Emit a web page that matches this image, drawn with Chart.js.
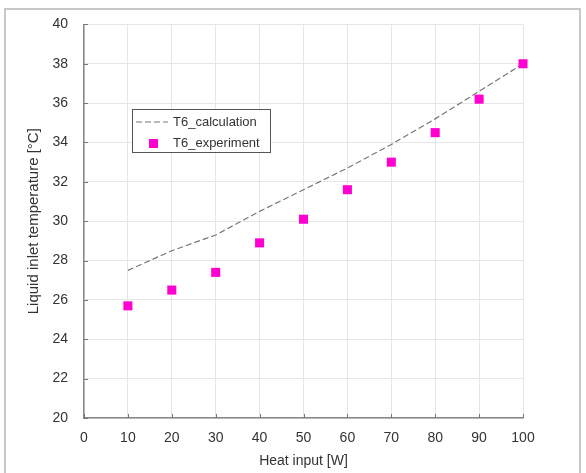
<!DOCTYPE html>
<html>
<head>
<meta charset="utf-8">
<script src="https://cdn.jsdelivr.net/npm/chart.js@4.4.0/dist/chart.umd.min.js"></script>
<style>
  html, body { margin: 0; padding: 0; background: #fff; }
  #wrap { width: 586px; height: 473px; }
</style>
</head>
<body>
<div id="wrap"><canvas id="tempChart" width="586" height="473"></canvas></div>
<script>
// datos
const heatInput = [10, 20, 30, 40, 50, 60, 70, 80, 90, 100];
const t6Calculation = [27.5, 28.5, 29.3, 30.5, 31.6, 32.7, 33.9, 35.2, 36.6, 38.0];
const t6Experiment = [25.7, 26.5, 27.4, 28.9, 30.1, 31.6, 33.0, 34.5, 36.2, 38.0];
const seriesNames = ['T6_calculation', 'T6_experiment'];

const FONT = '"Liberation Sans", Arial, sans-serif';
const MAGENTA = '#ff00d0';

// marco exterior, marcas interiores y leyenda
const extrasPlugin = {
    id: 'extras',
    beforeDraw(chart) {
        const ctx = chart.ctx;
        ctx.save();
        ctx.strokeStyle = '#c8c8c8';
        ctx.lineWidth = 2;
        ctx.strokeRect(5, 9, 575, 470);
        ctx.restore();
    },
    afterDraw(chart) {
        const ctx = chart.ctx;
        const x = chart.scales.x, y = chart.scales.y;
        const area = chart.chartArea;
        ctx.save();
        ctx.strokeStyle = '#777';
        ctx.lineWidth = 1;
        ctx.beginPath();
        y.ticks.forEach(t => {
            const py = Math.round(y.getPixelForValue(t.value)) + 0.5;
            ctx.moveTo(area.left, py);
            ctx.lineTo(area.left + 4, py);
        });
        x.ticks.forEach(t => {
            const px = Math.round(x.getPixelForValue(t.value)) + 0.5;
            ctx.moveTo(px, area.bottom);
            ctx.lineTo(px, area.bottom - 4);
        });
        ctx.stroke();

        // leyenda
        ctx.fillStyle = '#fff';
        ctx.fillRect(132, 109, 138, 43);
        ctx.strokeStyle = '#555';
        ctx.strokeRect(132.5, 109.5, 138, 43);
        ctx.strokeStyle = '#777';
        ctx.setLineDash([6, 3]);
        ctx.beginPath();
        ctx.moveTo(136, 122);
        ctx.lineTo(168, 122);
        ctx.stroke();
        ctx.setLineDash([]);
        ctx.fillStyle = MAGENTA;
        ctx.fillRect(149, 139, 9, 9);
        ctx.fillStyle = '#333';
        ctx.font = '13px ' + FONT;
        ctx.textBaseline = 'middle';
        ctx.fillText(seriesNames[0], 173, 122);
        ctx.fillText(seriesNames[1], 173, 143);
        ctx.restore();
    }
};

const ctx = document.getElementById('tempChart').getContext('2d');
const tempChart = new Chart(ctx, {
    type: 'scatter',
    data: {
        datasets: [{
            label: seriesNames[0],
            data: heatInput.map((v, i) => ({ x: v, y: t6Calculation[i] })),
            showLine: true,
            borderColor: '#777',
            borderWidth: 1.2,
            borderDash: [6, 3],
            pointRadius: 0,
            tension: 0,
            clip: false,
            order: 2
        }, {
            label: seriesNames[1],
            data: heatInput.map((v, i) => ({ x: v, y: t6Experiment[i] })),
            pointStyle: 'rect',
            pointRadius: 6.4,
            backgroundColor: MAGENTA,
            borderColor: MAGENTA,
            borderWidth: 0,
            clip: false,
            order: 1
        }]
    },
    options: {
        responsive: false,
        animation: false,
        layout: { padding: { left: 0, top: 24, right: 63, bottom: 0 } },
        plugins: {
            legend: { display: false },
            tooltip: { enabled: false }
        },
        scales: {
            x: {
                type: 'linear',
                min: 0,
                max: 100,
                ticks: { stepSize: 10, padding: 12, color: '#333', font: { family: FONT, size: 14 } },
                grid: { color: '#e6e6e6', drawTicks: false },
                border: { color: '#888', width: 1.5 },
                title: { display: true, text: 'Heat input [W]', color: '#333', font: { family: FONT, size: 14 }, padding: { top: 3, bottom: 3 } },
                afterFit(scale) { scale.height = 55; }
            },
            y: {
                min: 20,
                max: 40,
                ticks: { stepSize: 2, padding: 16, color: '#333', font: { family: FONT, size: 14 } },
                grid: { color: '#e6e6e6', drawTicks: false },
                border: { color: '#888', width: 1.5 },
                title: { display: true, text: 'Liquid inlet temperature [°C]', color: '#333', font: { family: FONT, size: 15 }, padding: { top: 25, bottom: 0 } },
                afterFit(scale) { scale.width = 84; }
            }
        }
    },
    plugins: [extrasPlugin]
});
</script>
</body>
</html>
